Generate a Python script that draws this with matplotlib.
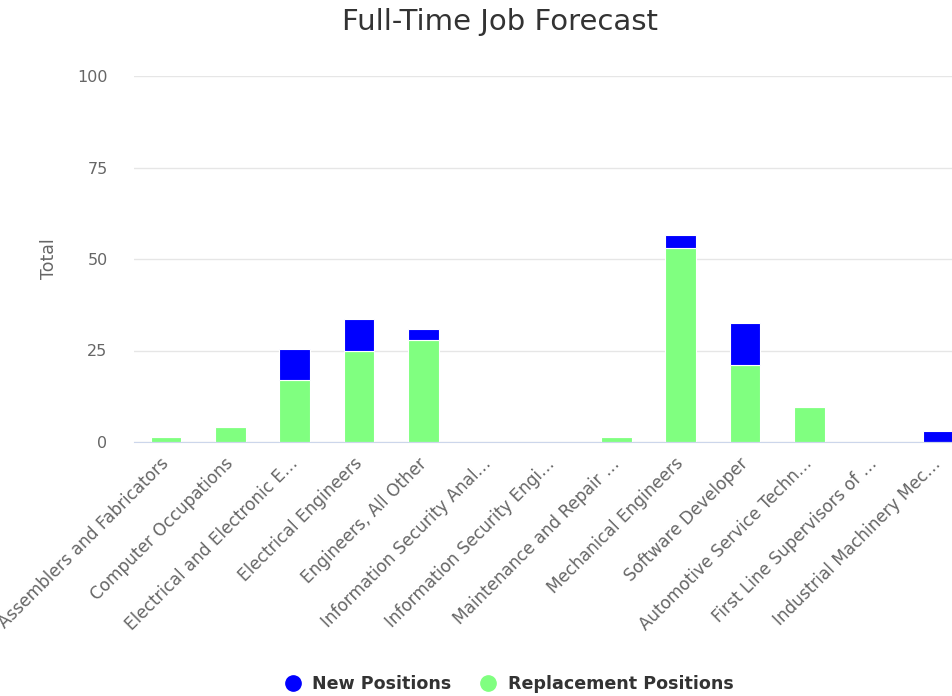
import matplotlib
matplotlib.use("Agg")
import matplotlib.pyplot as plt
import matplotlib.transforms as mtransforms
from matplotlib.lines import Line2D
import numpy as np

categories = [
    "Assemblers and Fabricators",
    "Computer Occupations",
    "Electrical and Electronic E…",
    "Electrical Engineers",
    "Engineers, All Other",
    "Information Security Anal…",
    "Information Security Engi…",
    "Maintenance and Repair …",
    "Mechanical Engineers",
    "Software Developer",
    "Automotive Service Techn…",
    "First Line Supervisors of …",
    "Industrial Machinery Mec…",
]
replacement_positions = [1.5, 4, 17, 25, 28, 0, 0, 1.5, 53, 21, 9.5, 0, 0]
new_positions = [0, 0, 8.5, 8.5, 3, 0, 0, 0, 3.5, 11.5, 0, 0, 3]
y_ticks = [0, 25, 50, 75, 100]

BLUE = "#0000ff"
GREEN = "#80ff80"
FONT = "DejaVu Sans"

plt.rcParams["font.family"] = FONT

W, H = 953, 696
fig = plt.figure(figsize=(W / 100, H / 100), dpi=100)
# plot area runs a bit past the right edge of the image, like the reference
left, right, top, bottom = 134, 970, 76, 442
ax = fig.add_axes([left / W, 1 - bottom / H, (right - left) / W, (bottom - top) / H])

x = np.arange(len(categories))
ax.bar(x, replacement_positions, width=0.475, color=GREEN, edgecolor="white",
       linewidth=0.8, zorder=3)
ax.bar(x, new_positions, width=0.475, bottom=replacement_positions, color=BLUE,
       edgecolor="white", linewidth=0.8, zorder=3)

ax.set_xlim(-0.5, len(categories) - 0.5)
ax.set_ylim(0, 100)
ax.set_yticks(y_ticks)
ax.set_yticklabels([str(t) for t in y_ticks], fontsize=11.5, color="#666666")
ax.yaxis.grid(True, color="#e6e6e6", linewidth=1, zorder=0)
ax.tick_params(axis="y", length=0, pad=19)
ax.tick_params(axis="x", length=0, pad=9)
ax.set_xticks(x)
ax.set_xticklabels(categories, rotation=45, ha="right", va="top",
                   rotation_mode="anchor", fontsize=12.2, color="#666666")
shift = mtransforms.ScaledTranslation(-6 / 100, 0, fig.dpi_scale_trans)
for lbl in ax.get_xticklabels():
    lbl.set_transform(lbl.get_transform() + shift)
for side in ("top", "right", "left"):
    ax.spines[side].set_visible(False)
ax.spines["bottom"].set_color("#ccd6eb")
ax.spines["bottom"].set_zorder(4)
ax.set_ylabel("Total", fontsize=12.5, color="#666666", labelpad=14)

fig.text(500 / W, 1 - 22 / H, "Full-Time Job Forecast", ha="center", va="center",
         fontsize=21, color="#333333")

handles = [
    Line2D([], [], marker="o", linestyle="none", markersize=11, color=BLUE),
    Line2D([], [], marker="o", linestyle="none", markersize=11, color=GREEN),
]
fig.legend(handles, ["New Positions", "Replacement Positions"], loc="center",
           bbox_to_anchor=(509 / W, 1 - 684 / H), ncol=2, frameon=False,
           prop={"weight": "bold", "size": 12.6}, labelcolor="#333333",
           handletextpad=0.6, columnspacing=1.6, handlelength=1.0)

fig.savefig("out.png", dpi=100)
